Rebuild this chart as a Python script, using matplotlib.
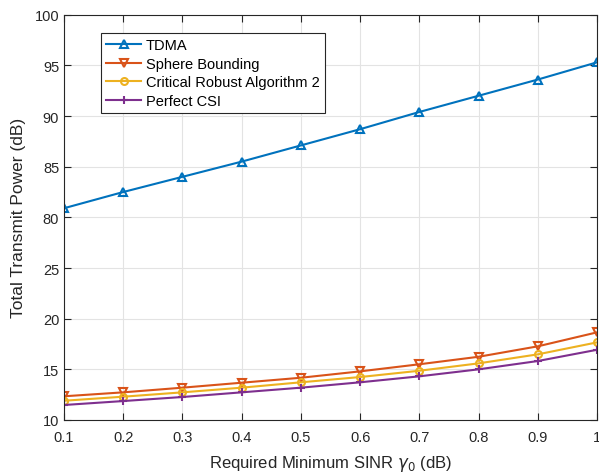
import matplotlib
matplotlib.use("Agg")
import matplotlib.pyplot as plt
from matplotlib.ticker import FuncFormatter

plt.rcParams['font.family'] = ['Liberation Sans', 'DejaVu Sans']

sinr = [0.1, 0.2, 0.3, 0.4, 0.5, 0.6, 0.7, 0.8, 0.9, 1.0]
tdma = [80.9, 82.5, 84.0, 85.5, 87.1, 88.7, 90.4, 92.0, 93.6, 95.3]
sphere = [12.34, 12.73, 13.19, 13.68, 14.17, 14.80, 15.50, 16.24, 17.27, 18.65]
critical = [11.90, 12.30, 12.73, 13.19, 13.72, 14.24, 14.86, 15.59, 16.48, 17.66]
perfect = [11.48, 11.87, 12.27, 12.73, 13.19, 13.72, 14.31, 15.00, 15.82, 16.93]
ytick_labels = ['10', '15', '20', '25', '80', '85', '90', '95', '100']

# broken axis: values above the gap shifted down by 50
GAP = 50
tdma_plot = [v - GAP for v in tdma]

fig = plt.figure(figsize=(5.99, 4.77), dpi=100)
ax = fig.add_axes([64/599, 1 - 421/477, 533/599, 405.3/477])

lw = 1.5
ax.plot(sinr, tdma_plot, color='#0072BD', marker='^', mfc='none', mew=1.5, ms=6, lw=lw, label='TDMA')
ax.plot(sinr, sphere, color='#D95319', marker='v', mfc='none', mew=1.5, ms=6, lw=lw, label='Sphere Bounding')
ax.plot(sinr, critical, color='#EDB120', marker='o', mfc='none', mew=1.5, ms=5, lw=lw, label='Critical Robust Algorithm 2')
ax.plot(sinr, perfect, color='#7E2F8E', marker='+', mew=1.5, ms=6, lw=lw, label='Perfect CSI')

ax.set_xlim(0.1, 1.0)
ax.set_ylim(10, 50)
ax.set_xticks(sinr)
ax.xaxis.set_major_formatter(FuncFormatter(lambda v, p: '%g' % round(v, 1)))
ax.set_yticks([10, 15, 20, 25, 30, 35, 40, 45, 50])
ax.set_yticklabels(ytick_labels)

ax.grid(True, color='#e3e3e3', lw=0.8)
ax.set_axisbelow(True)
ax.tick_params(direction='in', top=True, right=True, labelsize=10.5, colors='#262626', length=5, width=0.8)
ax.tick_params(axis='x', pad=7)
for s in ax.spines.values():
    s.set_color('#262626')
    s.set_linewidth(0.8)

ax.set_xlabel(r'Required Minimum SINR $\gamma_0$ (dB)', fontsize=12, color='#262626', labelpad=7)
ax.set_ylabel('Total Transmit Power (dB)', fontsize=12.5, color='#262626', labelpad=6)

leg = ax.legend(loc='upper left', bbox_to_anchor=(0.069, 0.955), fontsize=10.5, frameon=True,
                fancybox=False, edgecolor='#262626', framealpha=1, handlelength=2.4,
                labelspacing=0.3, borderpad=0.38, handletextpad=0.3, borderaxespad=0)
leg.get_frame().set_linewidth(0.8)

fig.savefig('out.png', dpi=100)
